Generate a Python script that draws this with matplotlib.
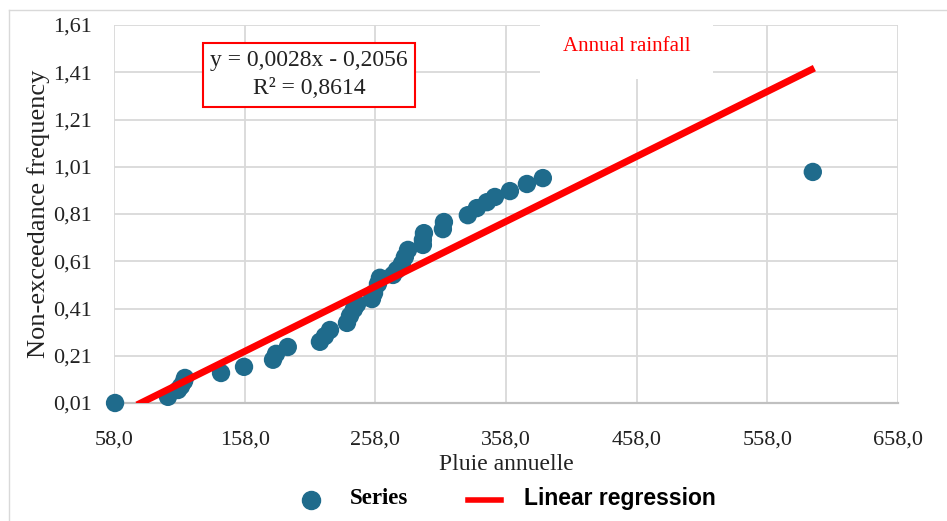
import numpy as np
import matplotlib
matplotlib.use("Agg")
import matplotlib.pyplot as plt
from matplotlib.lines import Line2D
from matplotlib.ticker import FuncFormatter

# Pluie annuelle (mm) et frequence de non-depassement
pluie = [58.8, 99.3, 107.0, 109.3, 111.6, 112.3, 139.9, 157.5, 179.7, 182.0,
         191.0, 215.6, 219.4, 223.3, 236.3, 238.6, 241.6, 244.0, 255.4, 257.0,
         260.0, 261.5, 271.5, 274.5, 278.3, 280.6, 283.0, 294.4, 294.4, 295.2,
         309.7, 310.5, 328.8, 335.7, 343.4, 349.5, 361.0, 374.0, 386.2, 592.8]
freq = [0.010, 0.036, 0.065, 0.081, 0.102, 0.116, 0.137, 0.163, 0.193, 0.218,
        0.247, 0.269, 0.293, 0.319, 0.349, 0.379, 0.407, 0.428, 0.450, 0.475,
        0.514, 0.540, 0.552, 0.573, 0.599, 0.628, 0.658, 0.679, 0.701, 0.729,
        0.746, 0.776, 0.805, 0.835, 0.860, 0.882, 0.907, 0.937, 0.962, 0.988]

# Droite de regression (trace)
reg_x = [75.6, 594.0]
reg_pente = 0.00275
reg_ordonnee = -0.206
eq_texte = "y = 0,0028x - 0,2056\nR² = 0,8614"

x_ticks = [58, 158, 258, 358, 458, 558, 658]
y_ticks = [0.01, 0.21, 0.41, 0.61, 0.81, 1.01, 1.21, 1.41, 1.61]

serif = "Liberation Serif"
bleu = "#1f6b8c"
rouge = "#ff0000"

fig = plt.figure(figsize=(9.47, 5.21), dpi=100)
ax = fig.add_axes([114 / 947, 118 / 521, 784 / 947, 378 / 521])

ax.scatter(pluie, freq, s=175, color=bleu, zorder=3, clip_on=False,
           edgecolors="none")
reg_y = [reg_pente * v + reg_ordonnee for v in reg_x]
ax.plot(reg_x, reg_y, color=rouge, linewidth=5, zorder=4, solid_capstyle="butt")

ax.set_xlim(58, 658)
ax.set_ylim(0.01, 1.61)
ax.set_xticks(x_ticks)
ax.set_yticks(y_ticks)
ax.xaxis.set_major_formatter(FuncFormatter(lambda v, p: f"{v:.1f}".replace(".", ",")))
ax.yaxis.set_major_formatter(FuncFormatter(lambda v, p: f"{v:.2f}".replace(".", ",")))
ax.tick_params(length=0, labelsize=16, colors="#222222")
ax.tick_params(axis="y", pad=16)
ax.tick_params(axis="x", pad=20)
for lab in ax.get_xticklabels() + ax.get_yticklabels():
    lab.set_family(serif)

ax.grid(True, color="#d9d9d9", linewidth=1.3, zorder=0)
ax.set_axisbelow(True)
for s in ["top", "right", "left"]:
    ax.spines[s].set_visible(False)
ax.spines["bottom"].set_color("#c0c0c0")
ax.spines["bottom"].set_linewidth(1.6)

ax.set_xlabel("Pluie annuelle", family=serif, fontsize=17, color="#222222", labelpad=3)
ax.set_ylabel("Non-exceedance frequency", family=serif, fontsize=19,
              color="#222222", labelpad=2)

# Equation et titre
ax.text(0.249, 0.868, eq_texte, transform=ax.transAxes, ha="center", va="center",
        family=serif, fontsize=17, color="#222222", linespacing=1.45, zorder=5,
        bbox=dict(boxstyle="square,pad=0.3", facecolor="white", edgecolor=rouge,
                  linewidth=1.5))
ax.text(0.654, 0.944, "Annual rainfall", transform=ax.transAxes, ha="center",
        va="center", family=serif, fontsize=15, color=rouge, zorder=5,
        bbox=dict(boxstyle="square,pad=1.1", facecolor="white", edgecolor="none"))

# Legende
handles = [Line2D([], [], marker="o", linestyle="none", markersize=13,
                  markerfacecolor=bleu, markeredgecolor=bleu),
           Line2D([], [], color=rouge, linewidth=4)]
leg = fig.legend(handles, ["Series", "Linear regression"], loc="center",
                 bbox_to_anchor=(505 / 947, 1 - 498 / 521), ncol=2, frameon=False,
                 handlelength=2.4, columnspacing=4.3, handletextpad=1.6)
leg.get_texts()[0].set_family(serif)
leg.get_texts()[0].set_fontweight("bold")
leg.get_texts()[0].set_fontsize(16.5)
leg.get_texts()[1].set_family("Liberation Sans")
leg.get_texts()[1].set_fontweight("bold")
leg.get_texts()[1].set_fontsize(16.5)

# Cadre du graphique
fig.add_artist(Line2D([9 / 947, 9 / 947], [0, 1 - 10 / 521], color="#d9d9d9",
                      linewidth=1, transform=fig.transFigure))
fig.add_artist(Line2D([9 / 947, 1], [1 - 10 / 521, 1 - 10 / 521], color="#d9d9d9",
                      linewidth=1, transform=fig.transFigure))

fig.savefig("out.png", dpi=100)
